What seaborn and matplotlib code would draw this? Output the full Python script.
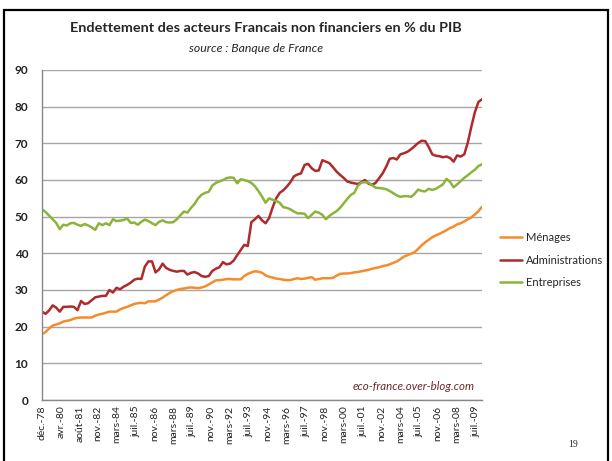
import pandas as pd
import numpy as np
import matplotlib
matplotlib.use("Agg")
import matplotlib.pyplot as plt
from matplotlib.patches import Rectangle
import seaborn as sns

# quarterly points, dec-78 .. dec-09 (% du PIB)
menages = [18.0, 18.5, 19.5, 20.3, 20.6, 20.9, 21.4, 21.6, 21.8, 22.2,
           22.4, 22.5, 22.5, 22.5, 22.5, 23.0, 23.3, 23.5, 23.8, 24.1,
           24.1, 24.1, 24.7, 25.1, 25.4, 25.8, 26.2, 26.4, 26.5, 26.4,
           26.9, 26.9, 26.9, 27.4, 27.9, 28.6, 29.2, 29.7, 30.0, 30.3,
           30.4, 30.6, 30.7, 30.6, 30.5, 30.7, 31.0, 31.5, 32.1, 32.6,
           32.7, 32.8, 33.0, 33.0, 32.9, 32.9, 32.9, 33.8, 34.4, 34.8,
           35.1, 35.0, 34.7, 34.0, 33.6, 33.4, 33.1, 33.0, 32.8, 32.7,
           32.7, 33.0, 33.2, 33.0, 33.1, 33.3, 33.5, 32.8, 33.0, 33.2,
           33.2, 33.2, 33.3, 33.9, 34.4, 34.5, 34.5, 34.6, 34.8, 34.9,
           35.1, 35.3, 35.5, 35.8, 36.0, 36.2, 36.5, 36.7, 37.0, 37.4,
           37.8, 38.4, 39.1, 39.5, 39.9, 40.3, 41.2, 42.2, 43.0, 43.7,
           44.4, 44.9, 45.3, 45.8, 46.3, 46.9, 47.3, 47.9, 48.2, 48.7,
           49.3, 49.8, 50.6, 51.5, 52.7]

administrations = [24.1, 23.5, 24.4, 25.8, 25.2, 24.1, 25.4, 25.4, 25.5, 25.4,
                   24.5, 27.0, 26.2, 26.4, 27.2, 28.0, 28.2, 28.4, 28.4, 30.0,
                   29.3, 30.6, 30.2, 30.9, 31.4, 32.0, 32.8, 33.1, 33.0, 36.4,
                   37.8, 37.8, 34.8, 35.6, 37.2, 36.0, 35.5, 35.2, 35.0, 35.2,
                   35.2, 34.2, 34.7, 34.9, 34.5, 33.8, 33.6, 33.8, 35.2, 35.8,
                   36.2, 37.6, 37.0, 37.2, 38.0, 39.5, 40.9, 42.3, 42.0, 48.5,
                   49.3, 50.2, 49.0, 48.2, 49.6, 52.5, 55.0, 56.5, 57.2, 58.2,
                   59.4, 61.0, 61.5, 61.8, 64.1, 64.4, 63.2, 62.5, 62.6, 65.4,
                   65.0, 64.6, 63.5, 62.3, 61.4, 60.6, 59.6, 59.3, 59.1, 58.9,
                   59.4, 60.0, 59.0, 58.7, 59.2, 60.5, 61.8, 63.6, 65.8, 66.0,
                   65.6, 67.0, 67.3, 67.7, 68.4, 69.2, 70.1, 70.7, 70.6, 69.0,
                   67.0, 66.6, 66.5, 66.2, 66.4, 66.0, 65.0, 66.7, 66.4, 67.0,
                   70.2, 74.5, 78.5, 81.3, 82.0]

entreprises = [52.0, 51.3, 50.3, 49.3, 48.3, 46.6, 47.8, 47.6, 48.2, 48.3,
               47.8, 47.5, 48.0, 47.6, 47.1, 46.4, 48.2, 47.7, 48.2, 47.7,
               49.3, 48.8, 48.9, 49.1, 49.5, 48.3, 48.4, 47.8, 48.6, 49.2,
               48.8, 48.2, 47.7, 48.6, 49.0, 48.5, 48.4, 48.5, 49.3, 50.4,
               51.4, 51.1, 52.4, 53.5, 55.0, 56.0, 56.5, 56.8, 58.5, 59.2,
               59.6, 60.0, 60.5, 60.7, 60.6, 59.1, 60.2, 60.0, 59.7, 59.2,
               58.3, 57.0, 55.5, 53.8, 55.0, 54.6, 54.3, 53.8, 52.6, 52.4,
               52.0, 51.4, 50.9, 50.9, 50.8, 49.6, 50.5, 51.4, 51.1, 50.5,
               49.3, 50.2, 50.9, 51.5, 52.4, 53.6, 54.8, 55.9, 56.5, 58.4,
               59.3, 59.4, 59.3, 58.6, 57.9, 57.8, 57.7, 57.5, 57.0, 56.4,
               55.8, 55.4, 55.6, 55.6, 55.4, 56.2, 57.4, 57.0, 56.9, 57.6,
               57.3, 57.6, 58.2, 58.8, 60.3, 59.5, 58.0, 58.8, 59.7, 60.6,
               61.3, 62.1, 62.8, 63.8, 64.3]

tick_dates = ["1978-12", "1980-04", "1981-08", "1982-11", "1984-03", "1985-07",
              "1986-11", "1988-03", "1989-07", "1990-11", "1992-03", "1993-07",
              "1994-11", "1996-03", "1997-07", "1998-11", "2000-03", "2001-07",
              "2002-11", "2004-03", "2005-07", "2006-11", "2008-03", "2009-07"]
tick_labels = ["déc.-78", "avr.-80", "août-81", "nov.-82", "mars-84", "juil.-85",
               "nov.-86", "mars-88", "juil.-89", "nov.-90", "mars-92", "juil.-93",
               "nov.-94", "mars-96", "juil.-97", "nov.-98", "mars-00", "juil.-01",
               "nov.-02", "mars-04", "juil.-05", "nov.-06", "mars-08", "juil.-09"]

dates = pd.date_range("1978-12-01", periods=len(menages), freq="3MS")
df = pd.DataFrame({"Date": dates, "Ménages": menages,
                   "Administrations": administrations, "Entreprises": entreprises})
long = df.melt(id_vars="Date", var_name="Secteur", value_name="Valeur")

sns.set_style("white")
plt.rcParams["font.family"] = ["Lato", "DejaVu Sans"]

colors = {"Ménages": "#F68B2C", "Administrations": "#AE2A2C", "Entreprises": "#8AB43A"}

fig = plt.figure(figsize=(6.12, 4.61), dpi=100)
ax = fig.add_axes([42/612, 61/461, 440/612, 330/461])

sns.lineplot(data=long, x="Date", y="Valeur", hue="Secteur", palette=colors,
             linewidth=1.8, ax=ax, legend=False)

ax.set_ylim(0, 90)
ax.set_yticks(range(0, 91, 10))
ax.set_xlim(dates[0], dates[-1])
ax.set_xticks(pd.to_datetime(tick_dates))
ax.set_xticklabels(tick_labels, rotation=90, fontsize=7.5, color="#222222")
ax.tick_params(axis="y", labelsize=8.5, colors="#222222", length=4, color="#888888", pad=6)
ax.tick_params(axis="x", length=4, color="#888888", direction="inout", pad=2)
for lbl in ax.get_yticklabels():
    lbl.set_fontweight("bold")
ax.set_xlabel("")
ax.set_ylabel("")
ax.grid(axis="y", color="#A6A6A6", linewidth=1)
ax.set_axisbelow(True)
for s in ["top", "right"]:
    ax.spines[s].set_visible(False)
for s in ["left", "bottom"]:
    ax.spines[s].set_color("#888888")
    ax.spines[s].set_linewidth(1)

handles = [plt.Line2D([], [], color=colors[k], linewidth=1.8) for k in colors]
fig.legend(handles, list(colors), loc="center left", bbox_to_anchor=(500/612, 201/461),
           frameon=False, fontsize=8, handlelength=2.0, handletextpad=0.3,
           labelspacing=1.0, borderpad=0, borderaxespad=0)

fig.text(266/612, 1-28/461, "Endettement des acteurs Francais non financiers en % du PIB",
         ha="center", va="center", fontsize=10.4, fontweight="bold")
fig.text(256/612, 1-48/461, "source : Banque de France", ha="center", va="center",
         fontsize=8.8, style="italic")
fig.text(475/612, 1-387/461, "eco-france.over-blog.com", ha="right", va="center",
         fontsize=8.3, style="italic", color="#6B2B2B")
fig.text(573/612, 1-444/461, "19", ha="center", va="center", fontsize=7,
         family="Liberation Serif")

fig.add_artist(Rectangle((4/612, -0.05), 604/612, (451/461)+0.05, transform=fig.transFigure,
                         fill=False, edgecolor="black", linewidth=1.6))

fig.savefig("out.png", dpi=100)
